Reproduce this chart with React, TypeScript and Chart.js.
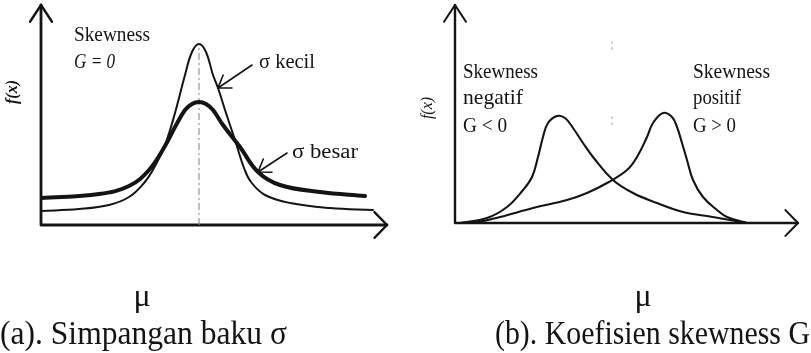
import React, { useEffect, useRef } from "react";
import { Chart, registerables } from "chart.js";

Chart.register(...registerables);

// ---- Panel (a): simpangan baku, both curves centred on μ (x = 0) ----
const kecilX = [-158, -120, -90, -70, -55, -45, -34, -24, -14, -7, 0, 7, 14, 19, 27, 36, 45, 52, 66, 91, 131, 174];
const kecilY = [14, 16, 20, 28, 42, 57, 80, 112, 150, 173, 181, 173, 150, 137, 112, 85, 57, 43, 30, 22, 17, 15];
const besarX = [-158, -100, -70, -50, -34, -24, -14, -7, 0, 7, 14, 24, 41, 59, 81, 121, 166];
const besarY = [27, 31, 39, 55, 79, 98, 115, 121, 123, 121, 115, 100, 78, 53, 40, 33, 29];

// ---- Panel (b): koefisien skewness ----
const negatifX = [5, 32, 52, 68, 77, 83, 88, 93, 102, 110, 118, 128, 138, 158, 178, 202, 228, 252, 275, 292];
const negatifY = [0, 5, 16, 33, 46, 66, 86, 100, 107, 105, 95, 80, 66, 43, 30, 20, 11, 7, 3, 0];
const positifX = [5, 22, 45, 78, 112, 132, 152, 172, 182, 192, 198, 208, 217, 222, 227, 232, 238, 248, 262, 272, 292];
const positifY = [0, 1, 6, 15, 23, 30, 40, 53, 66, 86, 100, 110, 106, 96, 80, 63, 43, 26, 13, 6, 0];
// faint μ guide marks in panel (b): [x, yFrom, yTo]
const muMarksB = [
  [157, 173, 183],
  [157, 98, 108],
];

const INK = "#141414";
const SERIF = '"Liberation Serif", "Times New Roman", serif';

type Label = {
  text: string;
  x: number;
  y: number;
  size: number;
  style?: string;
  width?: number;
  align?: "left" | "center";
  rotate?: boolean;
  color?: string;
};

type Pointer = { dataset: number; index: number; tail: [number, number] };

function drawLabel(ctx: CanvasRenderingContext2D, l: Label) {
  ctx.save();
  ctx.font = `${l.style ?? ""} ${l.size}px ${SERIF}`;
  ctx.fillStyle = l.color ?? INK;
  ctx.textBaseline = "middle";
  ctx.textAlign = "left";
  ctx.translate(l.x, l.y);
  if (l.rotate) ctx.rotate(-Math.PI / 2);
  const w = ctx.measureText(l.text).width;
  const sx = l.width ? l.width / w : 1;
  ctx.scale(sx, 1);
  const off = l.align === "center" ? -w / 2 : 0;
  ctx.fillText(l.text, off, 0);
  ctx.restore();
}

function chevron(
  ctx: CanvasRenderingContext2D,
  tipX: number,
  tipY: number,
  dirX: number,
  dirY: number,
  len: number,
  spread: number
) {
  // dir points from the tip back along the shaft
  const a = Math.atan2(dirY, dirX);
  ctx.beginPath();
  ctx.moveTo(tipX + Math.cos(a - spread) * len, tipY + Math.sin(a - spread) * len);
  ctx.lineTo(tipX, tipY);
  ctx.lineTo(tipX + Math.cos(a + spread) * len, tipY + Math.sin(a + spread) * len);
  ctx.stroke();
}

type PanelCfg = {
  width: number;
  height: number;
  padding: { left: number; right: number; top: number; bottom: number };
  xMin: number;
  xMax: number;
  yMin: number;
  yMax: number;
  datasets: any[];
  labels: Label[];
  pointers: Pointer[];
  axisWidth: number;
};

function buildChart(canvas: HTMLCanvasElement, cfg: PanelCfg) {
  const decor = {
    id: "decor",
    beforeDatasetsDraw(chart: any) {
      const { ctx, chartArea } = chart;
      const { left, right, top, bottom } = chartArea;
      ctx.save();
      ctx.strokeStyle = INK;
      ctx.lineWidth = cfg.axisWidth;
      ctx.lineCap = "round";
      ctx.lineJoin = "round";
      ctx.beginPath();
      ctx.moveTo(left, top);
      ctx.lineTo(left, bottom);
      ctx.lineTo(right, bottom);
      ctx.stroke();
      ctx.lineWidth = cfg.axisWidth * 0.85;
      chevron(ctx, left, top, 0, 1, 20, 0.58);
      chevron(ctx, right, bottom, -1, 0, 18, 0.8);
      ctx.restore();
    },
    afterDatasetsDraw(chart: any) {
      const { ctx } = chart;
      ctx.save();
      ctx.strokeStyle = INK;
      ctx.lineWidth = 1.6;
      ctx.lineCap = "round";
      for (const p of cfg.pointers) {
        const pt = chart.getDatasetMeta(p.dataset).data[p.index];
        const tx = pt.x;
        const ty = pt.y;
        ctx.beginPath();
        ctx.moveTo(p.tail[0], p.tail[1]);
        ctx.lineTo(tx, ty);
        ctx.stroke();
        chevron(ctx, tx, ty, p.tail[0] - tx, p.tail[1] - ty, 14, 0.6);
      }
      ctx.restore();
      for (const l of cfg.labels) drawLabel(ctx, l);
    },
  };

  return new Chart(canvas, {
    type: "line",
    data: { datasets: cfg.datasets },
    options: {
      responsive: false,
      maintainAspectRatio: false,
      animation: false,
      events: [],
      layout: { padding: cfg.padding },
      parsing: false as any,
      scales: {
        x: { type: "linear", min: cfg.xMin, max: cfg.xMax, display: false },
        y: { type: "linear", min: cfg.yMin, max: cfg.yMax, display: false },
      },
      plugins: { legend: { display: false }, tooltip: { enabled: false } },
      elements: { point: { radius: 0 } },
    },
    plugins: [decor],
  });
}

const pts = (xs: number[], ys: number[]) => xs.map((x, i) => ({ x, y: ys[i] }));

const curve = (xs: number[], ys: number[], width: number) => ({
  data: pts(xs, ys),
  borderColor: INK,
  borderWidth: width,
  tension: 0.4,
  pointRadius: 0,
  fill: false,
  borderCapStyle: "round",
  borderJoinStyle: "round",
});

function Panel({ cfg, left }: { cfg: PanelCfg; left: number }) {
  const ref = useRef<HTMLCanvasElement>(null);
  useEffect(() => {
    if (!ref.current) return;
    const chart = buildChart(ref.current, cfg);
    return () => chart.destroy();
  }, [cfg]);
  return (
    <canvas
      ref={ref}
      width={cfg.width}
      height={cfg.height}
      style={{ position: "absolute", left, top: 0, width: cfg.width, height: cfg.height }}
    />
  );
}

const peakKecil = Math.max(...kecilY);

const panelA: PanelCfg = {
  width: 405,
  height: 353,
  padding: { left: 41, right: 18, top: 5, bottom: 128 },
  xMin: -158,
  xMax: 188,
  yMin: 0,
  yMax: 220,
  axisWidth: 2.8,
  datasets: [
    curve(kecilX, kecilY, 2),
    curve(besarX, besarY, 4),
    {
      data: [
        { x: 0, y: 0 },
        { x: 0, y: peakKecil },
      ],
      borderColor: "#8a8a8a",
      borderWidth: 1.1,
      borderDash: [7, 3, 2, 3],
      pointRadius: 0,
      fill: false,
    },
  ],
  pointers: [
    { dataset: 0, index: 13, tail: [252, 65] },
    { dataset: 1, index: 13, tail: [287, 153] },
  ],
  labels: [
    { text: "Skewness", x: 74, y: 36, size: 20, width: 76 },
    { text: "G = 0", x: 74, y: 63, size: 20, style: "italic", width: 41 },
    { text: "σ kecil", x: 259, y: 63, size: 20, width: 56 },
    { text: "σ besar", x: 292, y: 153, size: 20, width: 66 },
    { text: "f(x)", x: 13, y: 92, size: 16, style: "italic bold", rotate: true, align: "center" },
    { text: "μ", x: 142, y: 298, size: 32, align: "center" },
    { text: "(a). Simpangan baku σ", x: 0, y: 335, size: 33, width: 287 },
  ],
};

const panelB: PanelCfg = {
  width: 406,
  height: 353,
  padding: { left: 50, right: 13, top: 5, bottom: 130 },
  xMin: 0,
  xMax: 343,
  yMin: 0,
  yMax: 218,
  axisWidth: 2.4,
  datasets: [
    curve(negatifX, negatifY, 2.1),
    curve(positifX, positifY, 2.1),
    {
      data: muMarksB.flatMap(([x, a, b]) => [
        { x, y: a },
        { x, y: b },
        { x, y: null },
      ]),
      borderColor: "rgba(0,0,0,0.22)",
      borderWidth: 1.5,
      borderDash: [3, 3],
      spanGaps: false,
      pointRadius: 0,
      fill: false,
    },
  ],
  pointers: [],
  labels: [
    { text: "Skewness", x: 58, y: 72, size: 21, width: 75 },
    { text: "negatif", x: 58, y: 98, size: 21, width: 60 },
    { text: "G < 0", x: 58, y: 126, size: 21, width: 44 },
    { text: "Skewness", x: 288, y: 72, size: 21, width: 77 },
    { text: "positif", x: 288, y: 98, size: 21, width: 48 },
    { text: "G > 0", x: 288, y: 126, size: 21, width: 43 },
    { text: "f(x)", x: 23, y: 108, size: 16, style: "italic", rotate: true, align: "center" },
    { text: "μ", x: 238, y: 298, size: 32, align: "center" },
    { text: "(b). Koefisien skewness G", x: 90, y: 335, size: 33, width: 315 },
  ],
};

export default function App() {
  return (
    <div
      style={{
        position: "fixed",
        left: 0,
        top: 0,
        width: 811,
        height: 353,
        background: "#fff",
        overflow: "hidden",
      }}
    >
      <Panel cfg={panelA} left={0} />
      <Panel cfg={panelB} left={405} />
    </div>
  );
}
